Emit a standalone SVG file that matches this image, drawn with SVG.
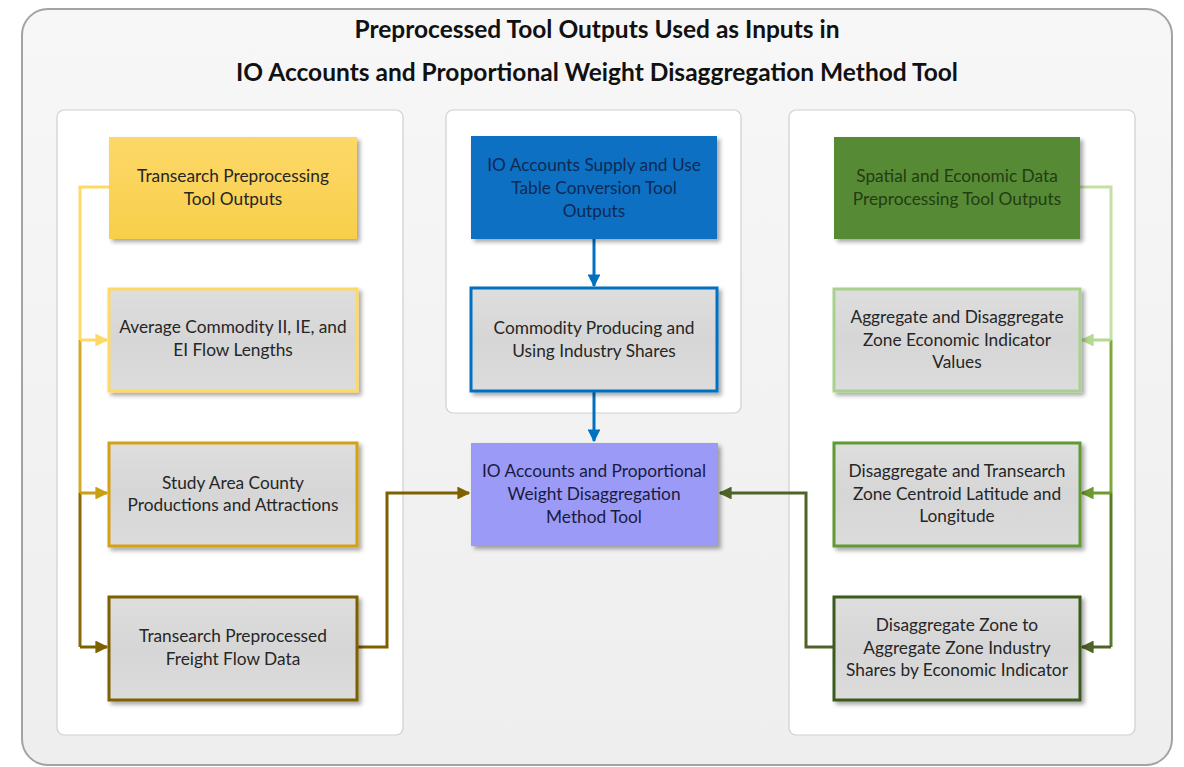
<svg xmlns="http://www.w3.org/2000/svg" width="1184" height="767" viewBox="0 0 1184 767">
<defs>
<filter id="sh" x="-10%" y="-10%" width="125%" height="130%">
<feDropShadow dx="3" dy="3" stdDeviation="2" flood-color="#000" flood-opacity="0.35"/>
</filter>
<linearGradient id="gray" x1="0" y1="0" x2="0" y2="1">
<stop offset="0" stop-color="#dedede"/>
<stop offset="0.5" stop-color="#d6d6d6"/>
<stop offset="1" stop-color="#dcdcdc"/>
</linearGradient>
<linearGradient id="yel" x1="0" y1="0" x2="0" y2="1">
<stop offset="0" stop-color="#fcd868"/>
<stop offset="1" stop-color="#f8cf4a"/>
</linearGradient>
<linearGradient id="frame" x1="0" y1="0" x2="0" y2="1">
<stop offset="0" stop-color="#f7f7f7"/>
<stop offset="1" stop-color="#eeeeee"/>
</linearGradient>
<marker id="aY" viewBox="0 0 10 10" refX="9" refY="5" markerWidth="4.3" markerHeight="4.3" orient="auto"><path d="M0,0 L10,5 L0,10 z" fill="#ffd966"/></marker>
<marker id="aG" viewBox="0 0 10 10" refX="9" refY="5" markerWidth="4.3" markerHeight="4.3" orient="auto"><path d="M0,0 L10,5 L0,10 z" fill="#c9a013"/></marker>
<marker id="aB" viewBox="0 0 10 10" refX="9" refY="5" markerWidth="4.3" markerHeight="4.3" orient="auto"><path d="M0,0 L10,5 L0,10 z" fill="#7f6000"/></marker>
<marker id="aBl" viewBox="0 0 10 10" refX="9" refY="5" markerWidth="4.3" markerHeight="4.3" orient="auto"><path d="M0,0 L10,5 L0,10 z" fill="#0070c0"/></marker>
<marker id="aLG" viewBox="0 0 10 10" refX="9" refY="5" markerWidth="4.3" markerHeight="4.3" orient="auto"><path d="M0,0 L10,5 L0,10 z" fill="#b5d98f"/></marker>
<marker id="aMG" viewBox="0 0 10 10" refX="9" refY="5" markerWidth="4.3" markerHeight="4.3" orient="auto"><path d="M0,0 L10,5 L0,10 z" fill="#6f9a2e"/></marker>
<marker id="aDG" viewBox="0 0 10 10" refX="9" refY="5" markerWidth="4.3" markerHeight="4.3" orient="auto"><path d="M0,0 L10,5 L0,10 z" fill="#4f6228"/></marker>
</defs>
<style>
text{font-family:Lato,"Liberation Sans",sans-serif;text-anchor:middle}
.title{font-size:24.5px;font-weight:bold;fill:#111}
.t{font-size:17.3px;fill:#262626}
.td{font-size:17.3px}
.panel{fill:#ffffff;stroke:#cfcfcf;stroke-width:1.2}
.gbox{fill:url(#gray);stroke-width:3;filter:url(#sh)}
.c{fill:none;stroke-width:3}
</style>
<rect x="22" y="9" width="1150" height="756" rx="26" fill="url(#frame)" stroke="#a3a3a3" stroke-width="2"/>
<text class="title" x="597" y="38">Preprocessed Tool Outputs Used as Inputs in</text>
<text class="title" x="597" y="81">IO Accounts and Proportional Weight Disaggregation Method Tool</text>
<rect class="panel" x="57" y="110" width="346" height="625" rx="7"/>
<rect class="panel" x="446" y="110" width="295" height="303" rx="7"/>
<rect class="panel" x="789" y="110" width="346" height="625" rx="7"/>

<g id="connectors">
<path class="c" d="M109,187 H80 V340" stroke="#ffd966"/>
<path class="c" d="M80,340 V493" stroke="#d4a82a"/>
<path class="c" d="M80,493 V647" stroke="#8a6a08"/>
<path class="c" d="M80,340 H107" stroke="#ffd966" marker-end="url(#aY)"/>
<path class="c" d="M80,493 H107" stroke="#c9a013" marker-end="url(#aG)"/>
<path class="c" d="M80,647 H107" stroke="#7f6000" marker-end="url(#aB)"/>
<path class="c" d="M357,647 H387 V493 H469" stroke="#7f6000" marker-end="url(#aB)"/>
<path class="c" d="M594,239 V286" stroke="#0070c0" marker-end="url(#aBl)"/>
<path class="c" d="M594,391 V441" stroke="#0070c0" marker-end="url(#aBl)"/>
<path class="c" d="M1080,187 H1111 V340" stroke="#c5e0a5" stroke-width="2"/>
<path class="c" d="M1111,340 V493" stroke="#7fa83a"/>
<path class="c" d="M1111,493 V647" stroke="#5a7a2a"/>
<path class="c" d="M1111,340 H1082" stroke="#b5d98f" marker-end="url(#aLG)"/>
<path class="c" d="M1111,493 H1082" stroke="#6f9a2e" marker-end="url(#aMG)"/>
<path class="c" d="M1111,647 H1082" stroke="#4f6228" marker-end="url(#aDG)"/>
<path class="c" d="M834,647 H806 V493 H720" stroke="#4f6228" marker-end="url(#aDG)"/>
</g>

<g id="n-transearch-tool">
<rect x="109" y="137" width="248" height="102" fill="url(#yel)" filter="url(#sh)"/>
<text class="t" x="233" y="182">Transearch Preprocessing</text>
<text class="t" x="233" y="205">Tool Outputs</text>
</g>
<g id="n-average">
<rect class="gbox" x="109" y="289" width="248" height="102" stroke="#ffd966"/>
<text class="t" x="233" y="333">Average Commodity II, IE, and</text>
<text class="t" x="233" y="356">EI Flow Lengths</text>
</g>
<g id="n-study">
<rect class="gbox" x="109" y="443" width="248" height="103" stroke="#d4a017"/>
<text class="t" x="233" y="489">Study Area County</text>
<text class="t" x="233" y="511">Productions and Attractions</text>
</g>
<g id="n-freight">
<rect class="gbox" x="109" y="597" width="248" height="103" stroke="#7f6000"/>
<text class="t" x="233" y="642">Transearch Preprocessed</text>
<text class="t" x="233" y="665">Freight Flow Data</text>
</g>

<g id="n-io-supply">
<rect x="471" y="136" width="246" height="103" fill="#0a70c2" filter="url(#sh)"/>
<text class="td" x="594" y="171" fill="#0d2a55">IO Accounts Supply and Use</text>
<text class="td" x="594" y="194" fill="#0d2a55">Table Conversion Tool</text>
<text class="td" x="594" y="217" fill="#0d2a55">Outputs</text>
</g>
<g id="n-commodity">
<rect class="gbox" x="471" y="288" width="246" height="103" stroke="#0070c0"/>
<text class="t" x="594" y="334">Commodity Producing and</text>
<text class="t" x="594" y="357">Using Industry Shares</text>
</g>
<g id="n-io-tool">
<rect x="471" y="443" width="247" height="103" fill="#9b9bf7" filter="url(#sh)"/>
<text class="td" x="594" y="477" fill="#1a1a40">IO Accounts and Proportional</text>
<text class="td" x="594" y="500" fill="#1a1a40">Weight Disaggregation</text>
<text class="td" x="594" y="523" fill="#1a1a40">Method Tool</text>
</g>

<g id="n-spatial">
<rect x="834" y="137" width="246" height="102" fill="#578a34" filter="url(#sh)"/>
<text class="td" x="957" y="182" fill="#223d12">Spatial and Economic Data</text>
<text class="td" x="957" y="205" fill="#223d12">Preprocessing Tool Outputs</text>
</g>
<g id="n-aggregate">
<rect class="gbox" x="834" y="289" width="246" height="102" stroke="#a9d18e"/>
<text class="t" x="957" y="323">Aggregate and Disaggregate</text>
<text class="t" x="957" y="346">Zone Economic Indicator</text>
<text class="t" x="957" y="368">Values</text>
</g>
<g id="n-centroid">
<rect class="gbox" x="834" y="443" width="246" height="103" stroke="#5f9a34"/>
<text class="t" x="957" y="477">Disaggregate and Transearch</text>
<text class="t" x="957" y="500">Zone Centroid Latitude and</text>
<text class="t" x="957" y="522">Longitude</text>
</g>
<g id="n-shares">
<rect class="gbox" x="834" y="597" width="246" height="103" stroke="#3a5a1f"/>
<text class="t" x="957" y="631">Disaggregate Zone to</text>
<text class="t" x="957" y="654">Aggregate Zone Industry</text>
<text class="t" x="957" y="676">Shares by Economic Indicator</text>
</g>
</svg>
